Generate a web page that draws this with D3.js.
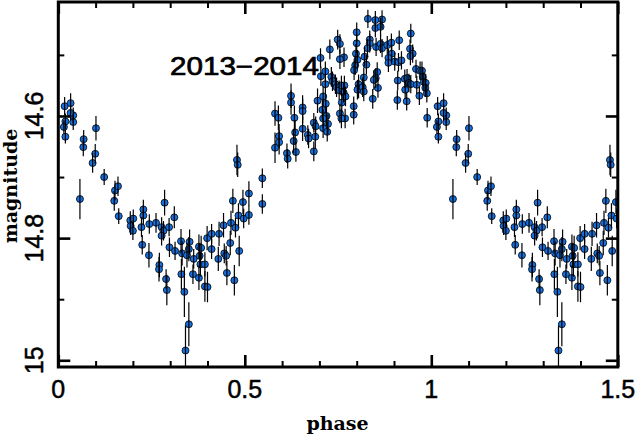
<!DOCTYPE html>
<html>
<head>
<meta charset="utf-8">
<script src="https://cdn.jsdelivr.net/npm/d3@7"></script>
<style>
	body {margin: 0; background: #fff;}
	svg {display: block;}
</style>
</head>
<body>
<script>
'use strict';

// Folded light curve, one cycle (phase 0..1). Phases < 0.5 are repeated at +1.
var phase = [
	0.017, 0.033, 0.019, 0.015, 0.040, 0.040, 0.033, 0.019, 0.101, 0.068,
	0.067, 0.099, 0.092, 0.123, 0.058, 0.152, 0.160, 0.150, 0.162, 0.193,
	0.201, 0.194, 0.200, 0.228, 0.228, 0.223, 0.225, 0.244, 0.262, 0.243,
	0.285, 0.277, 0.282, 0.277, 0.297, 0.311, 0.298, 0.313, 0.271, 0.270,
	0.289, 0.291, 0.329, 0.332, 0.352, 0.350, 0.345, 0.330, 0.338, 0.350,
	0.341, 0.363, 0.361, 0.377, 0.383, 0.379, 0.381, 0.377, 0.393, 0.393,
	0.400, 0.399, 0.411, 0.411, 0.431, 0.429, 0.443, 0.445, 0.450, 0.452,
	0.461, 0.463, 0.468, 0.475, 0.472, 0.483, 0.485, 0.495, 0.497, 0.511,
	0.511, 0.479, 0.481, 0.547, 0.547, 0.581, 0.581, 0.590, 0.592, 0.592,
	0.613, 0.615, 0.624, 0.624, 0.633, 0.635, 0.631, 0.637, 0.655, 0.655,
	0.655, 0.669, 0.671, 0.685, 0.689, 0.685, 0.690, 0.695, 0.703, 0.704,
	0.728, 0.749, 0.755, 0.766, 0.755, 0.716, 0.732, 0.716, 0.735, 0.743,
	0.746, 0.753, 0.759, 0.767, 0.765, 0.770, 0.710, 0.760, 0.717, 0.708,
	0.719, 0.755, 0.769, 0.759, 0.710, 0.723, 0.710, 0.721, 0.800, 0.800,
	0.798, 0.802, 0.796, 0.793, 0.821, 0.826, 0.819, 0.805, 0.805, 0.802,
	0.816, 0.819, 0.792, 0.792, 0.830, 0.850, 0.868, 0.850, 0.864, 0.835,
	0.835, 0.829, 0.852, 0.864, 0.868, 0.855, 0.851, 0.846, 0.857, 0.843,
	0.882, 0.893, 0.914, 0.894, 0.885, 0.885, 0.902, 0.912, 0.920, 0.945,
	0.943, 0.950, 0.944, 0.959, 0.970, 0.975, 0.910, 0.929, 0.935, 0.940,
	0.945, 0.930, 0.961, 0.977, 0.980, 0.985, 0.984, 0.988, 0.968, 0.909,
	0.934, 0.989
];

var magnitude = [
	14.584, 14.579, 14.609, 14.618, 14.610, 14.599, 14.595, 14.634, 14.620, 14.638,
	14.651, 14.662, 14.677, 14.700, 14.736, 14.722, 14.715, 14.739, 14.764, 14.771,
	14.768, 14.780, 14.788, 14.753, 14.763, 14.782, 14.811, 14.777, 14.775, 14.828,
	14.742, 14.782, 14.788, 14.796, 14.782, 14.766, 14.815, 14.821, 14.844, 14.851,
	14.867, 14.885, 14.805, 14.825, 14.806, 14.818, 14.828, 14.859, 14.888, 14.941,
	14.984, 14.834, 14.859, 14.814, 14.816, 14.829, 14.843, 14.865, 14.843, 14.879,
	14.880, 14.800, 14.793, 14.818, 14.793, 14.834, 14.779, 14.825, 14.829, 14.857,
	14.808, 14.775, 14.739, 14.783, 14.869, 14.763, 14.821, 14.741, 14.768, 14.762,
	14.727, 14.672, 14.680, 14.702, 14.744, 14.596, 14.652, 14.603, 14.633, 14.643,
	14.661, 14.670, 14.567, 14.578, 14.603, 14.627, 14.641, 14.659, 14.586, 14.592,
	14.621, 14.631, 14.637, 14.611, 14.634, 14.658, 14.617, 14.575, 14.505, 14.535,
	14.491, 14.475, 14.482, 14.504, 14.507, 14.527, 14.536, 14.548, 14.543, 14.548,
	14.553, 14.558, 14.550, 14.550, 14.562, 14.568, 14.568, 14.578, 14.580, 14.590,
	14.600, 14.596, 14.604, 14.604, 14.604, 14.613, 14.620, 14.626, 14.463, 14.481,
	14.498, 14.508, 14.517, 14.525, 14.503, 14.516, 14.537, 14.548, 14.555, 14.557,
	14.553, 14.560, 14.584, 14.598, 14.441, 14.443, 14.442, 14.456, 14.454, 14.475,
	14.481, 14.489, 14.487, 14.482, 14.489, 14.528, 14.538, 14.541, 14.554, 14.572,
	14.484, 14.480, 14.476, 14.498, 14.505, 14.513, 14.511, 14.512, 14.509, 14.465,
	14.490, 14.498, 14.502, 14.523, 14.526, 14.526, 14.542, 14.539, 14.538, 14.546,
	14.548, 14.557, 14.549, 14.536, 14.544, 14.546, 14.554, 14.563, 14.567, 14.574,
	14.576, 14.603
];

var magError = [
	0.015, 0.016, 0.013, 0.011, 0.013, 0.013, 0.013, 0.011, 0.020, 0.015,
	0.015, 0.016, 0.016, 0.013, 0.033, 0.016, 0.016, 0.016, 0.013, 0.015,
	0.015, 0.015, 0.015, 0.016, 0.016, 0.016, 0.016, 0.016, 0.016, 0.020,
	0.021, 0.016, 0.016, 0.016, 0.015, 0.018, 0.016, 0.015, 0.020, 0.020,
	0.016, 0.025, 0.020, 0.020, 0.020, 0.020, 0.020, 0.025, 0.041, 0.036,
	0.041, 0.016, 0.016, 0.020, 0.020, 0.020, 0.020, 0.020, 0.020, 0.025,
	0.025, 0.020, 0.016, 0.016, 0.020, 0.020, 0.020, 0.016, 0.016, 0.020,
	0.020, 0.020, 0.020, 0.016, 0.025, 0.020, 0.025, 0.020, 0.016, 0.016,
	0.020, 0.025, 0.020, 0.016, 0.016, 0.020, 0.025, 0.020, 0.020, 0.020,
	0.016, 0.016, 0.020, 0.020, 0.020, 0.020, 0.020, 0.016, 0.020, 0.020,
	0.020, 0.016, 0.016, 0.016, 0.020, 0.016, 0.016, 0.020, 0.016, 0.016,
	0.016, 0.016, 0.016, 0.016, 0.016, 0.016, 0.016, 0.016, 0.016, 0.016,
	0.016, 0.016, 0.016, 0.016, 0.016, 0.016, 0.016, 0.016, 0.016, 0.016,
	0.016, 0.016, 0.016, 0.016, 0.016, 0.016, 0.016, 0.016, 0.016, 0.016,
	0.016, 0.016, 0.016, 0.016, 0.016, 0.016, 0.016, 0.016, 0.016, 0.016,
	0.016, 0.016, 0.016, 0.016, 0.015, 0.015, 0.015, 0.015, 0.015, 0.015,
	0.015, 0.015, 0.015, 0.015, 0.015, 0.016, 0.016, 0.016, 0.016, 0.016,
	0.015, 0.015, 0.016, 0.015, 0.015, 0.015, 0.015, 0.015, 0.015, 0.016,
	0.015, 0.015, 0.015, 0.015, 0.015, 0.015, 0.016, 0.015, 0.015, 0.015,
	0.015, 0.015, 0.015, 0.015, 0.015, 0.015, 0.015, 0.015, 0.015, 0.016,
	0.015, 0.016
];

var xMajorTicks = [0, 0.5, 1, 1.5];
var xMinorTicks = [0.1, 0.2, 0.3, 0.4, 0.6, 0.7, 0.8, 0.9, 1.1, 1.2, 1.3, 1.4];
var xTickLabels = ['0', '0.5', '1', '1.5'];
var yMajorTicks = [14.6, 14.8, 15.0];
var yMinorTicks = [14.5, 14.7, 14.9];
var yTickLabels = ['14.6', '14.8', '15'];
var seasonLabel = '2013\u22122014';

(function() {
	var width = 637, height = 437,
			padLeft = 58.3, padRight = 617.8, padTop = 2, padBottom = 367,
			sans = '"Liberation Sans", Arial, sans-serif',
			serif = '"DejaVu Serif", serif',
			dotColor = '#1670e0',
			points = [], x, y, svg, plot;

	// Build the plotted points, repeating the first half cycle after phase 1.
	phase.forEach(function(p, i) {
		points.push({phase: p, mag: magnitude[i], err: magError[i]});
		if (p + 1 <= 1.5) {
			points.push({phase: p + 1, mag: magnitude[i], err: magError[i]});}});

	x = d3.scaleLinear().domain([0, 1.5]).range([padLeft, padRight]);
	// Magnitudes grow downwards.
	y = d3.scaleLinear().domain([14.4134, 15.0110]).range([padTop, padBottom]);

	svg = d3.select('body').append('svg')
		.attr('width', width)
		.attr('height', height);

	svg.append('defs').append('clipPath').attr('id', 'plot-clip')
		.append('rect')
		.attr('x', padLeft).attr('y', padTop)
		.attr('width', padRight - padLeft).attr('height', padBottom - padTop);

	plot = svg.append('g').attr('clip-path', 'url(#plot-clip)');

	// Points first, error bars drawn over them (as in the original renderer).
	plot.selectAll('.dot').data(points)
		.enter().append('circle')
		.attr('class', 'dot')
		.attr('cx', function(d) {return x(d.phase);})
		.attr('cy', function(d) {return y(d.mag);})
		.attr('r', 3.5)
		.attr('fill', dotColor)
		.attr('stroke', 'black')
		.attr('stroke-width', 0.8);

	plot.selectAll('.err').data(points)
		.enter().append('line')
		.attr('class', 'err')
		.attr('x1', function(d) {return x(d.phase);})
		.attr('x2', function(d) {return x(d.phase);})
		.attr('y1', function(d) {return y(d.mag - d.err);})
		.attr('y2', function(d) {return y(d.mag + d.err);})
		.attr('stroke', 'black')
		.attr('stroke-width', 1.2);

	// Inward ticks on all four sides.
	function ticks(axis, values, size, offset) {
		var g = svg.append('g').attr('transform', offset)
			.call(axis.tickValues(values).tickSize(size).tickFormat(''));
		g.select('.domain').remove();
		g.selectAll('.tick line').attr('stroke', 'black')
			.attr('stroke-width', Math.abs(size) > 8 ? 2.6 : 2);
		return g;}

	ticks(d3.axisBottom(x), xMajorTicks, -12, 'translate(0,' + padBottom + ')');
	ticks(d3.axisBottom(x), xMinorTicks, -6, 'translate(0,' + padBottom + ')');
	ticks(d3.axisTop(x), xMajorTicks, -12, 'translate(0,' + padTop + ')');
	ticks(d3.axisTop(x), xMinorTicks, -6, 'translate(0,' + padTop + ')');
	ticks(d3.axisLeft(y), yMajorTicks, -12, 'translate(' + padLeft + ',0)');
	ticks(d3.axisLeft(y), yMinorTicks, -6, 'translate(' + padLeft + ',0)');
	ticks(d3.axisRight(y), yMajorTicks, -12, 'translate(' + padRight + ',0)');
	ticks(d3.axisRight(y), yMinorTicks, -6, 'translate(' + padRight + ',0)');

	// Frame.
	svg.append('rect')
		.attr('x', padLeft).attr('y', padTop)
		.attr('width', padRight - padLeft).attr('height', padBottom - padTop)
		.attr('fill', 'none')
		.attr('stroke', 'black')
		.attr('stroke-width', 3);

	// Tick labels (slightly heavier than plain Liberation, like the original).
	svg.selectAll('.xlabel').data(xMajorTicks)
		.enter().append('text')
		.attr('class', 'xlabel')
		.attr('x', function(d) {return x(d);})
		.attr('y', 398)
		.attr('text-anchor', 'middle')
		.attr('stroke', 'black')
		.attr('stroke-width', 0.5)
		.style('font-family', sans)
		.style('font-size', '25px')
		.text(function(d, i) {return xTickLabels[i];});

	svg.selectAll('.ylabel').data(yMajorTicks)
		.enter().append('text')
		.attr('class', 'ylabel')
		.attr('transform', function(d) {return 'translate(43,' + y(d) + ')rotate(-90)';})
		.attr('text-anchor', 'middle')
		.attr('stroke', 'black')
		.attr('stroke-width', 0.5)
		.style('font-family', sans)
		.style('font-size', '25px')
		.text(function(d, i) {return yTickLabels[i];});

	// Axis titles.
	svg.append('text')
		.attr('x', 337.5)
		.attr('y', 430)
		.attr('text-anchor', 'middle')
		.style('font-family', serif)
		.style('font-weight', 'bold')
		.style('font-size', '19px')
		.text('phase');

	svg.append('text')
		.attr('transform', 'translate(17,186)rotate(-90)')
		.attr('text-anchor', 'middle')
		.style('font-family', serif)
		.style('font-weight', 'bold')
		.style('font-size', '19px')
		.text('magnitude');

	svg.append('text')
		.attr('x', 170)
		.attr('y', 75)
		.attr('textLength', 149)
		.attr('lengthAdjust', 'spacingAndGlyphs')
		.attr('stroke', 'black')
		.attr('stroke-width', 0.7)
		.style('font-family', sans)
		.style('font-size', '25px')
		.text(seasonLabel);
})();
</script>
</body>
</html>
